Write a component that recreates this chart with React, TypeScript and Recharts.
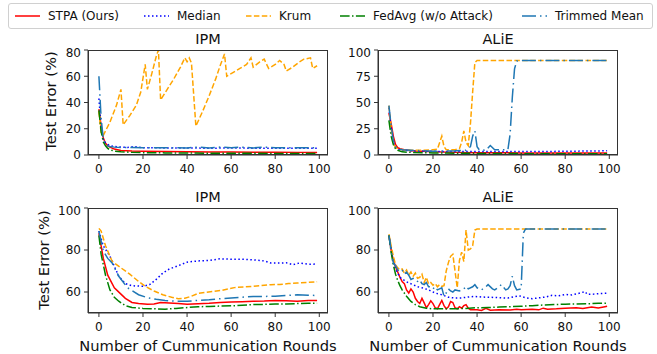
import React from 'react';
import { LineChart, Line, XAxis, YAxis } from 'recharts';

type Pt = [number, number];

const seriesNames = ['STPA (Ours)', 'Median', 'Krum', 'FedAvg (w/o Attack)', 'Trimmed Mean'];
const seriesColors = ['#ff0000', '#0000ff', '#ffa500', '#008000', '#1f77b4'];
const seriesDashes = ['', '1.5 2.5', '5.5 2.4', '9.6 2.4 1.5 2.4', '14 4 1.5 4'];

const xTicks = [0, 20, 40, 60, 80, 100];
const ipmTopTicks = [0, 20, 40, 60, 80];
const alieTopTicks = [0, 25, 50, 75, 100];
const bottomTicks = [60, 80, 100];

// top row, IPM
const ipmTopStpa: Pt[] = [[0, 35], [1, 22], [2, 13], [3, 9], [4, 7], [5, 6], [7, 4.5], [10, 3.5], [15, 3], [20, 2.8], [30, 2.6], [40, 2.4], [50, 2.3], [60, 2.2], [70, 2.1], [80, 2.1], [90, 2], [99, 2]];
const ipmTopMedian: Pt[] = [[0, 43], [1, 22], [2, 12], [3, 9], [4, 8], [5, 7.2], [7, 6.5], [10, 6], [13, 5.8], [16, 6.3], [20, 5.6], [25, 5.5], [30, 5.4], [40, 5.3], [50, 5.2], [60, 5.3], [70, 5.2], [80, 5.2], [90, 5.1], [99, 5.1]];
const ipmTopKrum: Pt[] = [[0, 33], [1, 17], [2, 15], [5, 25], [8, 38], [10, 50], [11, 23], [14, 30], [17, 38], [19, 48], [21, 69], [22, 50], [24, 62], [26, 75], [27, 80], [28, 42], [31, 50], [34, 58], [37, 67], [39, 74], [40, 71], [41, 74], [42, 70], [44, 22], [47, 33], [50, 45], [53, 58], [55, 68], [57, 77], [58, 60], [61, 63], [64, 66], [67, 69], [69, 74], [70, 67], [73, 71], [75, 73], [77, 66], [80, 69], [82, 72], [84, 69], [85, 64], [88, 67], [91, 71], [93, 73], [96, 74], [97, 66], [99, 68]];
const ipmTopFedAvg: Pt[] = [[0, 34], [1, 18], [2, 10], [3, 7], [4, 5], [5, 4], [7, 3], [10, 2.5], [15, 2], [20, 1.8], [30, 1.6], [40, 1.5], [50, 1.4], [60, 1.3], [70, 1.3], [80, 1.2], [90, 1.2], [99, 1.2]];
const ipmTopTrimmed: Pt[] = [[0, 60], [1, 28], [2, 12], [3, 8.5], [4, 7], [5, 6.5], [7, 6], [10, 5.8], [15, 5.8], [20, 5.6], [30, 5.5], [40, 5.4], [45, 6], [50, 5.4], [55, 6], [60, 5.5], [65, 6], [70, 5.4], [75, 6], [80, 5.5], [90, 5.5], [99, 5.5]];

// top row, ALiE
const alieTopStpa: Pt[] = [[0, 40], [1, 30], [2, 18], [3, 10], [4, 7], [5, 6], [7, 5], [10, 4], [15, 3.5], [20, 3], [30, 2.5], [40, 2.2], [60, 2], [80, 2], [99, 2]];
const alieTopMedian: Pt[] = [[0, 45], [1, 25], [2, 12], [3, 7], [4, 5.5], [6, 4.5], [10, 4], [20, 3.5], [30, 3.3], [40, 3.3], [60, 3.3], [80, 3.5], [90, 3.8], [99, 4]];
const alieTopKrum: Pt[] = [[0, 47], [1, 25], [2, 12], [3, 7], [4, 6], [6, 5], [10, 4.5], [15, 4.5], [20, 5], [22, 5.5], [24, 18], [25, 8], [26, 5], [30, 5], [32, 6], [33, 12], [34, 23], [35, 12], [36, 9], [37, 30], [38, 60], [39, 88], [40, 90], [99, 90]];
const alieTopFedAvg: Pt[] = [[0, 33], [1, 18], [2, 10], [3, 6], [4, 4.5], [6, 3], [10, 2.5], [20, 2], [40, 1.5], [60, 1.3], [80, 1.2], [99, 1.2]];
const alieTopTrimmed: Pt[] = [[0, 47], [1, 28], [2, 14], [3, 8], [4, 6], [6, 5], [10, 4.5], [15, 4], [20, 3.5], [25, 3.8], [30, 4], [35, 4.5], [37, 8], [38, 18], [39, 23], [40, 8], [41, 5], [44, 4.5], [46, 9], [48, 5], [52, 5], [54, 5], [55, 20], [56, 55], [57, 82], [58, 89.5], [60, 90], [99, 90]];

// bottom row, IPM
const ipmBotStpa: Pt[] = [[0, 88], [1, 82], [2, 76], [4, 68], [7, 62], [10, 59], [12, 57], [15, 55], [18, 54.5], [22, 54.2], [25, 54.3], [28, 55], [32, 54.8], [36, 54.5], [40, 54.2], [45, 54.4], [50, 54.6], [55, 55], [60, 55.2], [65, 55.4], [70, 55.6], [75, 55.7], [80, 56], [85, 55.8], [90, 55.6], [95, 55.9], [99, 56]];
const ipmBotMedian: Pt[] = [[0, 89], [2, 82], [5, 77], [9, 67.5], [12, 64], [15, 63], [20, 62.7], [23, 63.5], [26, 66], [29, 69], [32, 71], [36, 72.5], [40, 74.2], [45, 74.8], [50, 75], [55, 75.8], [60, 75.6], [65, 75.6], [70, 75.3], [75, 74.8], [78, 73.8], [82, 73.8], [85, 73.9], [88, 73], [91, 73.8], [95, 73.2], [99, 73.3]];
const ipmBotKrum: Pt[] = [[0, 90.3], [1, 89], [3, 82], [6, 74.6], [10, 71.5], [14, 68.5], [18, 65], [21, 62.7], [25, 60.5], [29, 58.7], [33, 57.5], [36, 56.8], [39, 57], [42, 58], [45, 59.3], [48, 59.8], [52, 60.3], [56, 60.8], [59, 61.5], [62, 62.2], [66, 62.4], [70, 62.7], [75, 63.2], [78, 63.5], [82, 63.6], [86, 64], [90, 64.3], [95, 64.6], [99, 64.9]];
const ipmBotFedAvg: Pt[] = [[0, 87], [1, 78], [3, 68], [5, 61], [7, 57.5], [9, 55.6], [12, 53.5], [15, 52.6], [20, 52.2], [25, 52], [30, 51.8], [35, 52.2], [40, 52.6], [45, 53], [50, 53.1], [55, 53.3], [60, 53.4], [65, 53.7], [70, 54], [75, 54.1], [80, 54.3], [85, 54.3], [90, 54.5], [95, 54.6], [99, 54.7]];
const ipmBotTrimmed: Pt[] = [[0, 89], [2, 79.5], [4, 76], [6, 73.8], [9, 67.5], [13, 62], [18, 58.7], [22, 57.3], [26, 56.5], [30, 56], [35, 55.6], [40, 55.6], [45, 56], [50, 56.3], [55, 56.8], [60, 57.1], [65, 57.5], [70, 57.9], [75, 57.9], [80, 58], [85, 58.3], [90, 58.7], [95, 58.5], [99, 58.3]];

// bottom row, ALiE
const alieBotStpa: Pt[] = [[0, 87], [1, 80], [2, 75], [3, 72], [4, 69.5], [5, 67], [6, 65], [7, 64], [8, 61], [9, 59.5], [10, 61.5], [11, 60], [12, 57], [13, 55.5], [14, 54.5], [15, 57], [16, 54.8], [17, 52.5], [18, 54], [19, 55.8], [20, 54.5], [21, 52.5], [22, 52], [23, 54], [24, 56], [25, 53.5], [26, 52], [27, 53], [28, 55.5], [29, 55], [30, 52.5], [31, 52], [32, 53], [33, 52.3], [34, 53.5], [35, 54], [36, 52.3], [37, 51.5], [40, 51.5], [42, 51.2], [44, 52.2], [46, 51.3], [50, 51.5], [55, 51.4], [58, 51.8], [60, 51.5], [65, 51.8], [68, 51.5], [70, 52.3], [72, 51.8], [76, 52], [80, 52.3], [85, 52.5], [88, 52.2], [92, 52.8], [95, 52.4], [98, 53], [99, 53.2]];
const alieBotMedian: Pt[] = [[0, 87], [2, 74], [3, 71], [5, 67], [7, 65.5], [9, 64.3], [11, 63.5], [13, 62.5], [15, 62], [18, 61], [21, 59.5], [24, 58.7], [27, 57.5], [30, 57.1], [33, 57.2], [36, 57.6], [39, 57.9], [42, 57.6], [46, 57.5], [50, 57.3], [54, 57.1], [57, 57.8], [59, 58.2], [62, 57.3], [65, 56.8], [68, 57.2], [71, 57.6], [74, 58.4], [77, 58.2], [80, 58.8], [83, 58.6], [86, 59.3], [89, 60.2], [90, 58.9], [93, 59], [96, 59.3], [99, 59.4]];
const alieBotKrum: Pt[] = [[0, 87.5], [1, 82], [2, 77], [3, 73], [4, 71.5], [5, 70.5], [6, 71], [7, 69], [8, 70.5], [9, 68], [10, 69.5], [11, 67.5], [12, 69], [13, 66.5], [14, 67], [15, 68.5], [16, 64.5], [17, 67], [18, 63.8], [19, 64.5], [20, 63.2], [21, 64], [22, 62.5], [23, 63.5], [24, 62.7], [25, 63], [26, 70], [27, 74], [28, 77], [29, 78], [30, 70], [31, 62], [32, 75], [33, 79], [34, 74.5], [35, 89.5], [36, 80], [37, 80.5], [38, 82], [39, 89.5], [40, 90], [99, 90]];
const alieBotFedAvg: Pt[] = [[0, 87], [1, 79], [2, 73], [3, 68.5], [4, 65.5], [5, 63], [6, 61], [8, 58], [10, 55.5], [12, 54], [14, 53], [17, 52.3], [20, 52], [25, 52], [30, 52], [35, 52.2], [40, 52.5], [45, 52.6], [50, 52.8], [55, 53], [60, 53.2], [65, 53.5], [70, 53.8], [75, 54], [80, 54.2], [85, 54.3], [90, 54.4], [95, 54.6], [99, 54.7]];
const alieBotTrimmed: Pt[] = [[0, 87], [1, 80], [2, 74], [3, 72.5], [4, 70.6], [5, 69.8], [6, 70.5], [7, 68.5], [8, 69.5], [9, 68], [10, 66], [11, 66.5], [12, 65.5], [13, 65], [14, 65.8], [15, 64], [16, 63.5], [17, 64.5], [18, 62.5], [19, 62.5], [20, 61.5], [21, 62.5], [22, 61], [23, 61.5], [24, 62], [25, 58], [26, 59.5], [27, 61.5], [28, 60.5], [29, 60], [30, 61], [32, 60.5], [34, 61.5], [35, 62.7], [36, 61.5], [38, 62.5], [39, 63.5], [40, 62], [42, 61], [44, 62.5], [45, 63.5], [47, 61.5], [48, 61], [50, 62.5], [51, 63.5], [53, 61], [54, 61.5], [55, 63], [56, 67.5], [57, 63], [58, 61], [60, 61.5], [61, 88], [62, 90], [99, 90]];

const FONT = '"DejaVu Sans", sans-serif';
const AX = '#333';
const toPts = (arr: Pt[]) => arr.map(([x, y]) => ({ x, y }));

interface PanelProps {
  left: number;
  top: number;
  domain: [number, number];
  ticks: number[];
  series: Pt[][];
}

const PW = 240;
const PH = 105;
const YW = 45;

const Panel: React.FC<PanelProps> = ({ left, top, domain, ticks, series }) => (
  <>
    <div style={{ position: 'absolute', left: left - YW, top: top - 5 }}>
      <LineChart width={YW + PW + 5} height={5 + PH + 30} margin={{ top: 5, right: 5, left: 0, bottom: 0 }}>
        <XAxis
          dataKey="x"
          type="number"
          domain={[-4.95, 103.95]}
          ticks={xTicks}
          height={30}
          tickSize={4}
          tickMargin={5}
          stroke={AX}
          tick={{ fill: '#111', fontSize: 12, fontFamily: FONT }}
          allowDataOverflow
        />
        <YAxis
          type="number"
          domain={domain}
          ticks={ticks}
          width={YW}
          tickSize={4}
          tickMargin={3}
          stroke={AX}
          tick={{ fill: '#111', fontSize: 12, fontFamily: FONT }}
          allowDataOverflow
        />
        {series.map((s, i) => (
          <Line
            key={seriesNames[i]}
            data={toPts(s)}
            dataKey="y"
            type="linear"
            stroke={seriesColors[i]}
            strokeWidth={1.5}
            strokeDasharray={seriesDashes[i] || undefined}
            dot={false}
            activeDot={false}
            isAnimationActive={false}
          />
        ))}
      </LineChart>
    </div>
    {/* axes frame (top and right spines) */}
    <div style={{ position: 'absolute', left, top, width: PW, height: PH, boxSizing: 'border-box', border: `1px solid ${AX}`, pointerEvents: 'none' }} />
  </>
);

const textStyle: React.CSSProperties = {
  position: 'absolute',
  fontFamily: FONT,
  color: '#111',
  whiteSpace: 'nowrap',
  transform: 'translate(-50%, -50%)',
};

const legendLeft = [15, 144, 246, 340, 522];

const App: React.FC = () => (
  <div style={{ position: 'absolute', left: 0, top: 0, width: 657, height: 354, background: '#fff', overflow: 'hidden' }}>
    <Panel left={88} top={49.5} domain={[0, 80]} ticks={ipmTopTicks} series={[ipmTopStpa, ipmTopMedian, ipmTopKrum, ipmTopFedAvg, ipmTopTrimmed]} />
    <Panel left={378} top={49.5} domain={[0, 100]} ticks={alieTopTicks} series={[alieTopStpa, alieTopMedian, alieTopKrum, alieTopFedAvg, alieTopTrimmed]} />
    <Panel left={88} top={208.3} domain={[50, 100]} ticks={bottomTicks} series={[ipmBotStpa, ipmBotMedian, ipmBotKrum, ipmBotFedAvg, ipmBotTrimmed]} />
    <Panel left={378} top={208.3} domain={[50, 100]} ticks={bottomTicks} series={[alieBotStpa, alieBotMedian, alieBotKrum, alieBotFedAvg, alieBotTrimmed]} />

    <div style={{ ...textStyle, left: 208, top: 39, fontSize: 14.5 }}>IPM</div>
    <div style={{ ...textStyle, left: 498, top: 39, fontSize: 14.5 }}>ALiE</div>
    <div style={{ ...textStyle, left: 208, top: 197, fontSize: 14.5 }}>IPM</div>
    <div style={{ ...textStyle, left: 498, top: 197, fontSize: 14.5 }}>ALiE</div>

    <div style={{ ...textStyle, left: 50, top: 101, fontSize: 14.7, transform: 'translate(-50%, -50%) rotate(-90deg)' }}>Test Error (%)</div>
    <div style={{ ...textStyle, left: 43, top: 260, fontSize: 14.7, transform: 'translate(-50%, -50%) rotate(-90deg)' }}>Test Error (%)</div>

    <div style={{ ...textStyle, left: 208, top: 345, fontSize: 14.7 }}>Number of Cummunication Rounds</div>
    <div style={{ ...textStyle, left: 498, top: 345, fontSize: 14.7 }}>Number of Cummunication Rounds</div>

    <div style={{ position: 'absolute', left: 8, top: 3, width: 643, height: 24, border: '1px solid #d0d0d0', borderRadius: 3, background: '#fff' }}>
      {seriesNames.map((name, i) => (
        <div key={name} style={{ position: 'absolute', left: legendLeft[i] - 9, top: 0, height: 24, display: 'flex', alignItems: 'center', fontFamily: FONT, fontSize: 12, color: '#111', whiteSpace: 'nowrap' }}>
          <svg width={25} height={10} style={{ marginRight: 8 }}>
            <line x1={0} y1={5} x2={25} y2={5} stroke={seriesColors[i]} strokeWidth={1.5} strokeDasharray={seriesDashes[i] || undefined} />
          </svg>
          {name}
        </div>
      ))}
    </div>
  </div>
);

export default App;
